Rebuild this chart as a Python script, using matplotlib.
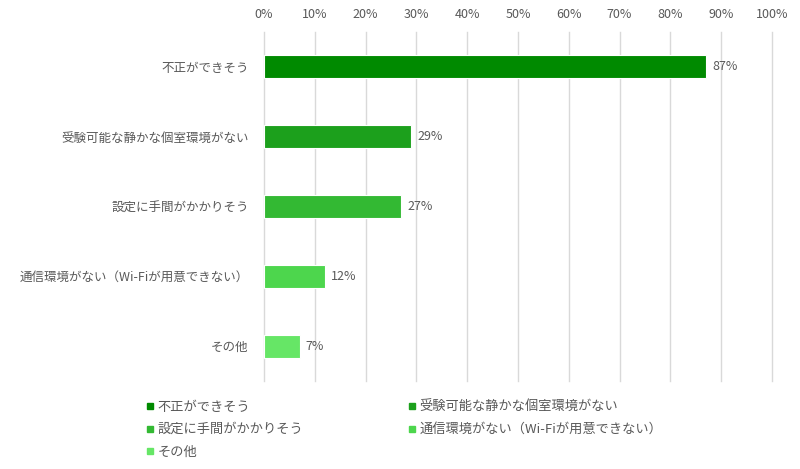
import matplotlib
matplotlib.use("Agg")
import matplotlib.pyplot as plt
from matplotlib.lines import Line2D

plt.rcParams['font.family'] = ['Noto Sans CJK JP', 'DejaVu Sans']

categories = ['不正ができそう', '受験可能な静かな個室環境がない', '設定に手間がかかりそう',
              '通信環境がない（Wi-Fiが用意できない）', 'その他']
values = [87, 29, 27, 12, 7]
colors = ['#008a00', '#1ca01c', '#33b933', '#4dd64d', '#66e666']
xticks = list(range(0, 101, 10))

text_color = '#595959'

fig = plt.figure(figsize=(8, 4.69), dpi=100)
ax = fig.add_axes([0.33, 0.1876, 0.635, 0.7444])

y = list(range(len(categories)))
ax.barh(y, values, height=0.33, color=colors, edgecolor='white', linewidth=0.8, zorder=3)
for yi, v in zip(y, values):
    ax.text(v + 1.2, yi, f'{v}%', va='center', ha='left', fontsize=9, color=text_color)

ax.set_xlim(0, 100)
ax.set_ylim(len(categories) - 0.5, -0.5)
ax.set_xticks(xticks)
ax.set_xticklabels([f'{t}%' for t in xticks])
ax.xaxis.tick_top()
ax.set_yticks(y)
ax.set_yticklabels(categories)
ax.tick_params(axis='both', length=0, labelsize=9, colors=text_color)
ax.tick_params(axis='x', pad=8)
ax.tick_params(axis='y', pad=11)
ax.grid(axis='x', color='#d9d9d9', linewidth=1, zorder=0)
for line in ax.get_xgridlines():
    line.set_clip_on(False)
for s in ax.spines.values():
    s.set_visible(False)

# 凡例は行方向に並べる
order = [0, 2, 4, 1, 3]
handles = [Line2D([], [], marker='s', linestyle='none', markersize=4.5, color=colors[i]) for i in order]
labels = [categories[i] for i in order]
fig.legend(handles, labels, loc='upper left', bbox_to_anchor=(0.174, 0.157), ncol=2,
           frameon=False, fontsize=9.5, labelcolor=text_color, handletextpad=0.2,
           handlelength=0.8, columnspacing=7.8, labelspacing=0.72, borderaxespad=0)

fig.savefig('out.png', dpi=100)
